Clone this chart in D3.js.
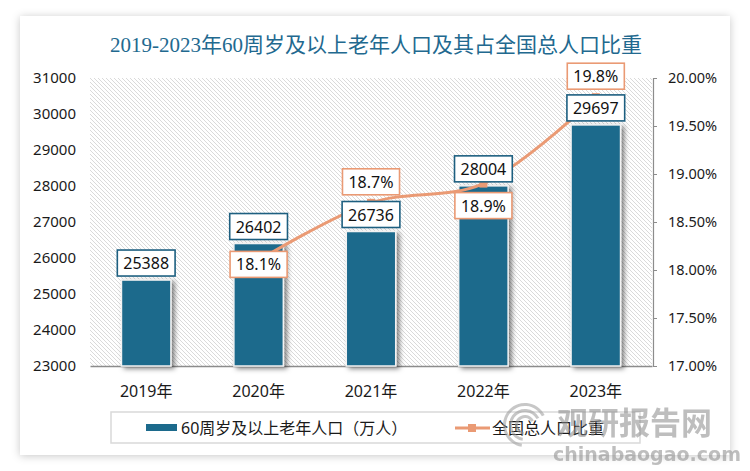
<!DOCTYPE html>
<html><head><meta charset="utf-8">
<script src="https://cdn.jsdelivr.net/npm/d3@7/dist/d3.min.js"></script>
<style>
html,body{margin:0;padding:0;background:#fff;}
svg{display:block;}
</style></head>
<body>
<svg id="chart" width="750" height="471"></svg>
<script>
const title = "2019-2023年60周岁及以上老年人口及其占全国总人口比重";
const categories = ["2019年","2020年","2021年","2022年","2023年"];
const population = [25388, 26402, 26736, 28004, 29697];
const ratio = [null, 18.1, 18.7, 18.9, 19.8];
const ratioLabels = ["", "18.1%", "18.7%", "18.9%", "19.8%"];
const ratioLabelPlace = ["", "center", "above", "below", "above"];
const leftTicks = [23000,24000,25000,26000,27000,28000,29000,30000,31000];
const rightTicks = [17,17.5,18,18.5,19,19.5,20];
const seriesNames = ["60周岁及以上老年人口（万人）","全国总人口比重"];

const BLUE = "#1c6a8c", ORANGE = "#ea9a74", TITLE = "#22698f";
const FONT = "'Noto Sans','Noto Sans CJK SC',sans-serif";

const svg = d3.select("#chart");
const defs = svg.append("defs");

const cardF = defs.append("filter").attr("id","cardShadow").attr("x","-10%").attr("y","-10%").attr("width","120%").attr("height","120%");
cardF.append("feDropShadow").attr("dx",0).attr("dy",1).attr("stdDeviation",4).attr("flood-color","#000").attr("flood-opacity",0.22);

const barF = defs.append("filter").attr("id","barShadow").attr("x","-30%").attr("y","-10%").attr("width","160%").attr("height","130%");
barF.append("feDropShadow").attr("dx",3).attr("dy",2).attr("stdDeviation",2.5).attr("flood-color","#000").attr("flood-opacity",0.5);

const pat = defs.append("pattern").attr("id","hatch").attr("patternUnits","userSpaceOnUse")
  .attr("width",4).attr("height",4);
pat.append("rect").attr("width",4).attr("height",4).attr("fill","#fff");
pat.append("path").attr("d","M-1,-1 L5,5 M-1,3 L1,5 M3,-1 L5,1").attr("stroke","#dadada").attr("stroke-width",1);

// card
svg.append("rect").attr("x",20).attr("y",16).attr("width",710).attr("height",439)
  .attr("fill","#fff").attr("filter","url(#cardShadow)");

// title
svg.append("text").attr("x",376).attr("y",52).attr("text-anchor","middle")
  .attr("font-family","'Liberation Serif','Noto Sans CJK SC',serif").attr("font-size",21)
  .attr("fill",TITLE).text(title);

const x = d3.scaleBand().domain(categories).range([90,652]).paddingInner(0.56).paddingOuter(0.28);
const yL = d3.scaleLinear().domain([23000,31000]).range([366,78]);
const yR = d3.scaleLinear().domain([17,20]).range([366,78]);

// plot background hatch
svg.append("rect").attr("x",x.range()[0]).attr("y",yL.range()[1])
  .attr("width",x.range()[1]-x.range()[0]).attr("height",yL.range()[0]-yL.range()[1])
  .attr("fill","url(#hatch)");

// left axis
const gL = svg.append("g").attr("transform","translate(76,0)")
  .call(d3.axisLeft(yL).tickValues(leftTicks).tickFormat(d3.format("d")).tickSize(0).tickPadding(0));
gL.select(".domain").remove();
gL.selectAll("text").attr("font-family",FONT).attr("font-size",15).attr("fill","#1a1a1a");

// right axis
const gR = svg.append("g").attr("transform","translate(653,0)")
  .call(d3.axisRight(yR).tickValues(rightTicks).tickFormat(d => d.toFixed(2)+"%").tickSize(4).tickSizeOuter(0).tickPadding(11));
gR.select(".domain").attr("stroke","#8c8c8c").attr("stroke-width",1.2);
gR.selectAll(".tick line").attr("stroke","#8c8c8c");
gR.selectAll("text").attr("font-family",FONT).attr("font-size",14.5).attr("fill","#1a1a1a");

// bottom axis
const gB = svg.append("g").attr("transform","translate(0,366)")
  .call(d3.axisBottom(x).tickSize(0).tickPadding(20));
gB.select(".domain").attr("stroke","#8c8c8c").attr("stroke-width",1.5);
gB.selectAll("text").attr("font-family",FONT).attr("font-size",16).attr("fill","#1a1a1a");

// bars
svg.append("g").selectAll("rect").data(population).join("rect")
  .attr("x",(d,i)=>x(categories[i]))
  .attr("y",d=>yL(d))
  .attr("width",x.bandwidth())
  .attr("height",d=>yL.range()[0]-yL(d))
  .attr("fill",BLUE).attr("stroke","#f2f2f2").attr("stroke-width",1.5)
  .attr("filter","url(#barShadow)");

// line
const pts = ratio.map((v,i)=>({v,i})).filter(p=>p.v!=null);
const line = d3.line().x(p=>x(categories[p.i])+x.bandwidth()/2).y(p=>yR(p.v)).curve(d3.curveCatmullRom.alpha(0.5));
svg.append("path").datum(pts).attr("d",line).attr("fill","none").attr("stroke",ORANGE).attr("stroke-width",3);
svg.append("g").selectAll("rect").data(pts).join("rect")
  .attr("x",p=>x(categories[p.i])+x.bandwidth()/2-4).attr("y",p=>yR(p.v)-4)
  .attr("width",8).attr("height",8).attr("fill",ORANGE);

// labels
function labelBox(g, cx, cy, txt, color){
  const t = g.append("text").attr("x",cx).attr("y",cy).attr("text-anchor","middle")
    .attr("dominant-baseline","central").attr("font-family",FONT).attr("font-size",16)
    .attr("fill","#111").text(txt);
  const w = t.node().getComputedTextLength()+12, h = 26;
  g.insert("rect","text").attr("x",cx-w/2).attr("y",cy-h/2).attr("width",w).attr("height",h)
    .attr("fill","#fff").attr("stroke",color).attr("stroke-width",1.6);
}
population.forEach((v,i)=>{
  const g = svg.append("g");
  labelBox(g, x(categories[i])+x.bandwidth()/2, yL(v)-17, String(v), "#1d5f80");
});
ratio.forEach((v,i)=>{
  if(v==null) return;
  const g = svg.append("g");
  const cx = x(categories[i])+x.bandwidth()/2, py = yR(v);
  let cy = py;
  if(ratioLabelPlace[i]==="above") cy = py-21;
  else if(ratioLabelPlace[i]==="below") cy = py+22;
  else cy = py+4;
  labelBox(g, cx, cy, ratioLabels[i], ORANGE);
});

// legend
const lg = svg.append("g");
lg.append("rect").attr("x",111).attr("y",412).attr("width",529).attr("height",31)
  .attr("fill","none").attr("stroke","#d9d9d9").attr("stroke-width",1.5);
lg.append("rect").attr("x",146).attr("y",424).attr("width",31).attr("height",7).attr("fill",BLUE);
lg.append("text").attr("x",181).attr("y",428).attr("dominant-baseline","central")
  .attr("font-family",FONT).attr("font-size",16).attr("fill","#1a1a1a").text(seriesNames[0]);
lg.append("line").attr("x1",455).attr("x2",490).attr("y1",428).attr("y2",428).attr("stroke",ORANGE).attr("stroke-width",3);
lg.append("rect").attr("x",468).attr("y",424).attr("width",8).attr("height",8).attr("fill",ORANGE);
lg.append("text").attr("x",492).attr("y",428).attr("dominant-baseline","central")
  .attr("font-family",FONT).attr("font-size",16).attr("fill","#1a1a1a").text(seriesNames[1]);

// watermark
const wm = svg.append("g").attr("opacity",0.55);
[22,16,10].forEach((r,k)=>{
  wm.append("path").attr("d",d3.arc()({innerRadius:r-3,outerRadius:r,startAngle:-Math.PI*0.95,endAngle:Math.PI*0.35}))
    .attr("transform","translate(525,425)").attr("fill","#9a9a9a");
});
wm.append("text").attr("x",557).attr("y",434).attr("font-family","'Noto Sans CJK SC',sans-serif")
  .attr("font-weight","bold").attr("font-size",31).attr("fill","#8a8a8a").text("观研报告网");
wm.append("text").attr("x",553).attr("y",461).attr("font-family","'DejaVu Sans',sans-serif")
  .attr("font-weight","bold").attr("font-size",19).attr("fill","#8a8a8a").text("chinabaogao.com");
</script>
</body></html>
